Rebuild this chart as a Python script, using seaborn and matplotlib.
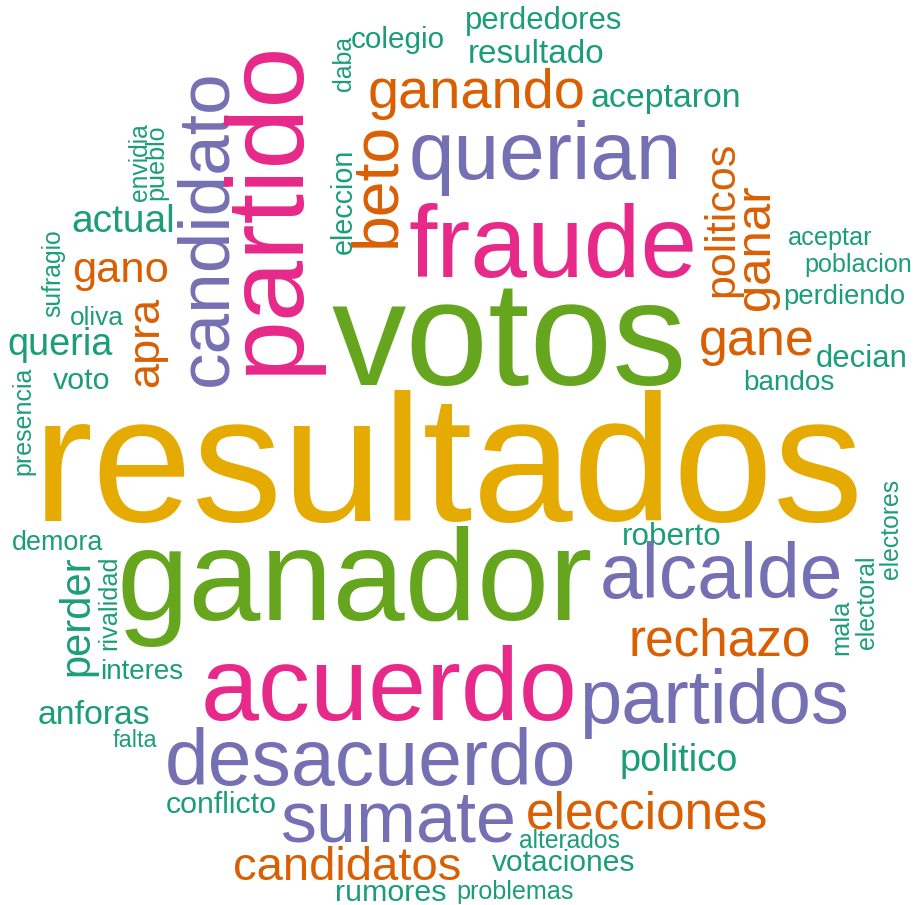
import numpy as np
import matplotlib
matplotlib.use("Agg")
import matplotlib.pyplot as plt
import seaborn as sns

# ---------------- data ----------------
# colour groups: 0 teal, 1 orange, 2 purple, 3 pink, 4 green, 5 yellow (Dark2)
h_words = ["perdedores", "colegio", "resultado", "ganando", "aceptaron", "querian",
           "actual", "fraude", "aceptar", "gano", "poblacion", "perdiendo", "oliva",
           "queria", "gane", "decian", "votos", "voto", "bandos", "resultados",
           "roberto", "demora", "alcalde", "ganador", "rechazo", "interes", "acuerdo",
           "partidos", "anforas", "falta", "politico", "desacuerdo", "conflicto",
           "elecciones", "sumate", "alterados", "votaciones", "candidatos", "rumores",
           "problemas"]
h_group = [0, 0, 0, 1, 0, 2,
           0, 3, 0, 1, 0, 0, 0,
           0, 1, 0, 4, 0, 0, 5,
           0, 0, 2, 4, 1, 0, 3,
           2, 0, 0, 0, 2, 0,
           1, 2, 0, 0, 1, 0,
           0]

v_words = ["daba", "envidia", "pueblo", "candidato", "partido", "beto", "eleccion",
           "politicos", "ganar", "sufragio", "apra", "presencia", "perder",
           "rivalidad", "electores", "electoral", "mala"]
v_group = [0, 0, 0, 2, 3, 1, 0,
           1, 1, 0, 1, 0, 0,
           0, 0, 0, 0]

# ---------------- layout (ink box in pixels of the 914x905 image) ----------------
h_left = [467, 352, 470, 370, 592, 412, 74, 411, 789, 75, 807, 786, 71,
          10, 701, 817, 333, 53, 746, 45, 624, 13, 603, 122, 632, 103, 205,
          585, 39, 113, 622, 168, 167, 528, 283, 520, 492, 235, 337, 459]
h_base = [29, 48, 63, 108, 107, 179, 232, 277, 245, 282, 272, 304, 325,
          355, 355, 367, 385, 389, 390, 521, 545, 550, 598, 620, 655, 679, 720,
          723, 724, 747, 771, 785, 813, 828, 841, 848, 871, 880, 901, 899]
h_right = [621, 443, 602, 583, 739, 676, 172, 694, 871, 167, 911, 904, 123,
           112, 812, 904, 681, 108, 834, 857, 719, 102, 839, 590, 809, 183, 573,
           846, 148, 157, 736, 572, 275, 766, 513, 619, 634, 460, 445, 573]

v_left = [333, 130, 148, 177, 227, 352, 332, 707, 745, 43, 133, 15, 62,
          97, 881, 856, 832]
v_right = [350, 145, 165, 230, 324, 397, 350, 740, 780, 63, 170, 32, 95,
           118, 896, 874, 847]
v_bottom = [92, 202, 200, 387, 375, 248, 255, 297, 311, 317, 387, 475, 676,
            650, 580, 650, 655]
v_top = [38, 125, 128, 78, 52, 130, 153, 147, 188, 232, 298, 370, 560,
         560, 482, 559, 603]

# ---------------- drawing ----------------
sns.set_theme(style="white")
plt.rcParams["font.family"] = ["Liberation Sans", "DejaVu Sans"]

W, H = 914, 905
fig = plt.figure(figsize=(W / 100, H / 100), dpi=100)
fig.patch.set_facecolor("white")
ax = fig.add_axes([0, 0, 1, 1])
ax.set_xlim(0, W)
ax.set_ylim(H, 0)
ax.axis("off")
fig.canvas.draw()
renderer = fig.canvas.get_renderer()
palette = sns.color_palette("Dark2", 6)


def ink_box(t):
    """Ink extent (x0, x1, y0, y1) of one text, in image pixels."""
    renderer.clear()
    t.draw(renderer)
    buf = np.asarray(renderer.buffer_rgba())
    a = buf[..., 3].astype(int)
    mask = a > 110
    ys, xs = np.nonzero(mask)
    if len(xs) == 0:
        return None
    return xs.min(), xs.max() + 1, ys.min(), ys.max() + 1


def place(word, x, y, rot, color, target):
    t = ax.text(x, y, word, fontsize=20, rotation=rot, rotation_mode="anchor",
                ha="left", va="baseline", color=color)
    bb = t.get_window_extent(renderer)
    cur = bb.width if rot == 0 else bb.height
    t.set_fontsize(20 * target["len"] / cur)
    for _ in range(2):
        box = ink_box(t)
        if box is None:
            break
        x0, x1, y0, y1 = box
        length = (x1 - x0) if rot == 0 else (y1 - y0)
        t.set_fontsize(t.get_fontsize() * target["len"] / length)
        box = ink_box(t)
        x0, x1, y0, y1 = box
        px, py = t.get_position()
        if rot == 0:
            px += target["x0"] - x0
        else:
            px += target["xc"] - (x0 + x1) / 2
            py += target["y1"] - y1
        t.set_position((px, py))
    return t


for w, g, l, b, r in zip(h_words, h_group, h_left, h_base, h_right):
    place(w, l, b, 0, palette[g], {"len": r - l, "x0": l})

for w, g, xl, xr, yb, yt in zip(v_words, v_group, v_left, v_right, v_bottom, v_top):
    place(w, xr, yb, 90, palette[g],
          {"len": yb - yt, "xc": (xl + xr) / 2, "y1": yb})

fig.savefig("out.png", dpi=100, facecolor="white")
